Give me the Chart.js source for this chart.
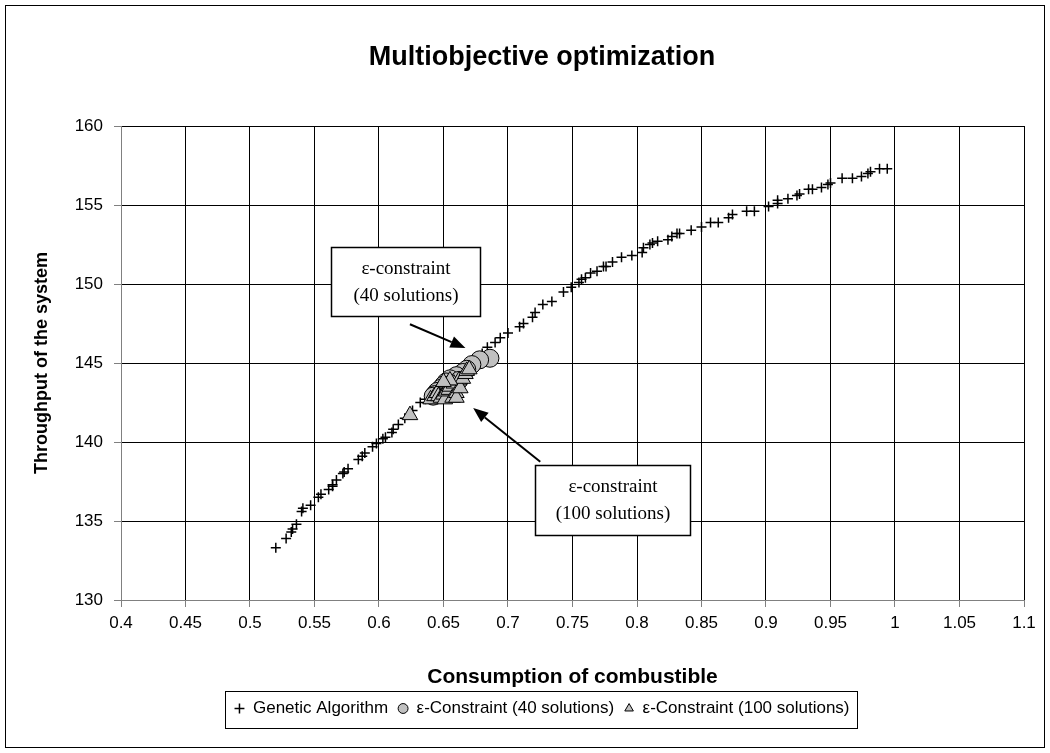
<!DOCTYPE html>
<html>
<head>
<meta charset="utf-8">
<script src="https://cdn.jsdelivr.net/npm/chart.js@4.4.0/dist/chart.umd.min.js"></script>
<style>
  html, body { margin: 0; padding: 0; background: #fff; }
  #wrap { width: 1050px; height: 753px; position: relative; }
</style>
</head>
<body>
<div id="wrap"><canvas id="chart"></canvas></div>
<script>
// Genetic Algorithm front
const gaX = [0.520, 0.528, 0.532, 0.533, 0.536, 0.540, 0.541, 0.547, 0.553, 0.555,
  0.561, 0.564, 0.564, 0.567, 0.572, 0.573, 0.576, 0.584, 0.587, 0.589,
  0.595, 0.598, 0.603, 0.605, 0.610, 0.611, 0.615, 0.620, 0.626, 0.632,
  0.636, 0.641, 0.646, 0.651, 0.656, 0.661, 0.666, 0.671, 0.676, 0.680,
  0.684, 0.690, 0.694, 0.700, 0.709, 0.712, 0.719, 0.721, 0.727, 0.734,
  0.743, 0.749, 0.755, 0.757, 0.760, 0.764, 0.769, 0.774, 0.776, 0.781,
  0.788, 0.796, 0.804, 0.805, 0.810, 0.812, 0.816, 0.824, 0.827, 0.831,
  0.833, 0.842, 0.850, 0.857, 0.863, 0.871, 0.874, 0.885, 0.891, 0.902,
  0.909, 0.909, 0.917, 0.924, 0.926, 0.933, 0.936, 0.943, 0.948, 0.950,
  0.959, 0.967, 0.974, 0.979, 0.981, 0.988, 0.994];
const gaY = [133.3, 133.9, 134.3, 134.5, 134.8, 135.6, 135.8, 136.0, 136.5, 136.7,
  137.0, 137.2, 137.3, 137.6, 138.0, 138.1, 138.3, 138.9, 139.1, 139.3,
  139.7, 139.9, 140.2, 140.3, 140.6, 140.8, 141.1, 141.5, 142.0, 142.5,
  142.7, 143.0, 143.3, 143.6, 143.9, 144.2, 144.6, 144.9, 145.3, 145.6,
  146.0, 146.3, 146.6, 146.9, 147.3, 147.5, 147.9, 148.2, 148.7, 148.9,
  149.5, 149.8, 150.1, 150.3, 150.4, 150.7, 150.8, 151.1, 151.1, 151.4,
  151.7, 151.8, 152.0, 152.3, 152.5, 152.6, 152.7, 152.8, 153.0, 153.2,
  153.2, 153.4, 153.6, 153.9, 153.9, 154.2, 154.4, 154.6, 154.6, 154.9,
  155.1, 155.3, 155.4, 155.6, 155.7, 156.0, 156.0, 156.1, 156.3, 156.4,
  156.7, 156.7, 156.8, 157.0, 157.1, 157.3, 157.3];

// ε-Constraint, 40 solutions
const c40X = [0.686, 0.678, 0.672, 0.668, 0.665, 0.660, 0.655, 0.652, 0.650, 0.648,
  0.645, 0.643, 0.642, 0.655, 0.662];
const c40Y = [145.3, 145.2, 144.9, 144.6, 144.4, 144.2, 144.0, 143.8, 143.6, 143.4,
  143.2, 143.0, 142.9, 143.5, 143.9];

// ε-Constraint, 100 solutions
const c100X = [0.624, 0.640, 0.643, 0.645, 0.646, 0.648, 0.650, 0.651, 0.652, 0.654,
  0.655, 0.657, 0.658, 0.660, 0.660, 0.662, 0.663, 0.665, 0.667, 0.668,
  0.670, 0.655, 0.650];
const c100Y = [141.7, 142.7, 142.9, 143.1, 142.9, 142.8, 143.0, 142.7, 143.2, 143.3,
  143.5, 142.8, 143.7, 143.1, 142.8, 143.9, 143.4, 144.0, 144.3, 144.5,
  144.6, 143.9, 143.8];

const xTicks = [0.4, 0.45, 0.5, 0.55, 0.6, 0.65, 0.7, 0.75, 0.8, 0.85, 0.9, 0.95, 1, 1.05, 1.1];
const yTicks = [130, 135, 140, 145, 150, 155, 160];

const seriesNames = ["Genetic Algorithm", "ε-Constraint (40 solutions)", "ε-Constraint (100 solutions)"];

// call-out boxes and arrows, in data units
const callouts = [
  { lines: ["ε-constraint", "(40 solutions)"], x0: 0.563, x1: 0.678, y0: 152.35, y1: 147.95 },
  { lines: ["ε-constraint", "(100 solutions)"], x0: 0.721, x1: 0.841, y0: 138.55, y1: 134.1 }
];
const arrows = [
  { from: [0.624, 147.45], to: [0.667, 145.95] },
  { from: [0.725, 138.75], to: [0.673, 142.15] }
];

const SANS = "'Liberation Sans', Arial, sans-serif";
const SERIF = "'Liberation Serif', 'Times New Roman', serif";

function toPoints(xs, ys) {
  return xs.map((x, i) => ({ x, y: ys[i] }));
}

const extras = {
  id: "extras",
  afterDatasetsDraw(chart) {
    const { ctx } = chart;
    const xs = chart.scales.x, ys = chart.scales.y;
    ctx.save();
    // boxes
    callouts.forEach((c) => {
      const l = Math.round(xs.getPixelForValue(c.x0)) + 0.5;
      const r = Math.round(xs.getPixelForValue(c.x1)) + 0.5;
      const t = Math.round(ys.getPixelForValue(c.y0)) + 0.5;
      const b = Math.round(ys.getPixelForValue(c.y1)) + 0.5;
      ctx.fillStyle = "#fff";
      ctx.fillRect(l, t, r - l, b - t);
      ctx.strokeStyle = "#000";
      ctx.lineWidth = 1.5;
      ctx.strokeRect(l, t, r - l, b - t);
      ctx.fillStyle = "#000";
      ctx.font = "19px " + SERIF;
      ctx.textAlign = "center";
      ctx.textBaseline = "middle";
      const cx = (l + r) / 2, cy = (t + b) / 2;
      ctx.fillText(c.lines[0], cx, cy - 13);
      ctx.fillText(c.lines[1], cx, cy + 14);
    });
    // arrows
    arrows.forEach((a) => {
      const x1 = xs.getPixelForValue(a.from[0]), y1 = ys.getPixelForValue(a.from[1]);
      const x2 = xs.getPixelForValue(a.to[0]), y2 = ys.getPixelForValue(a.to[1]);
      const ang = Math.atan2(y2 - y1, x2 - x1);
      const head = 15, half = 6;
      ctx.strokeStyle = "#000";
      ctx.lineWidth = 2;
      ctx.beginPath();
      ctx.moveTo(x1, y1);
      ctx.lineTo(x2 - head * Math.cos(ang), y2 - head * Math.sin(ang));
      ctx.stroke();
      ctx.fillStyle = "#000";
      ctx.beginPath();
      ctx.moveTo(x2, y2);
      ctx.lineTo(x2 - head * Math.cos(ang) + half * Math.sin(ang), y2 - head * Math.sin(ang) - half * Math.cos(ang));
      ctx.lineTo(x2 - head * Math.cos(ang) - half * Math.sin(ang), y2 - head * Math.sin(ang) + half * Math.cos(ang));
      ctx.closePath();
      ctx.fill();
    });
    ctx.restore();
  },
  afterDraw(chart) {
    const { ctx, legend } = chart;
    ctx.save();
    ctx.strokeStyle = "#000";
    ctx.lineWidth = 1;
    // legend frame
    const boxes = legend.legendHitBoxes;
    if (boxes && boxes.length) {
      const l = Math.min(...boxes.map((b) => b.left)) - 9;
      const r = Math.max(...boxes.map((b) => b.left + b.width)) + 8;
      const cy = boxes[0].top + boxes[0].height / 2;
      ctx.strokeRect(Math.round(l) + 0.5, Math.round(cy - 18) + 0.5, Math.round(r - l), 37);
    }
    // outer frame
    ctx.strokeRect(5.5, 5.5, 1039, 742);
    ctx.restore();
  }
};

const ctx = document.getElementById("chart").getContext("2d");
new Chart(ctx, {
  type: "scatter",
  data: {
    datasets: [
      {
        label: seriesNames[0],
        data: toPoints(gaX, gaY),
        pointStyle: "cross",
        pointRadius: 5,
        borderColor: "#000",
        backgroundColor: "#000",
        borderWidth: 1.5,
        order: 3
      },
      {
        label: seriesNames[1],
        data: toPoints(c40X, c40Y),
        pointStyle: "circle",
        pointRadius: 9,
        borderColor: "#000",
        backgroundColor: "#c0c0c0",
        borderWidth: 1,
        order: 2
      },
      {
        label: seriesNames[2],
        data: toPoints(c100X, c100Y),
        pointStyle: "triangle",
        pointRadius: 9,
        borderColor: "#000",
        backgroundColor: "#c0c0c0",
        borderWidth: 1,
        order: 1
      }
    ]
  },
  options: {
    responsive: true,
    maintainAspectRatio: false,
    animation: false,
    devicePixelRatio: 1,
    layout: { padding: { left: 34, right: 0, top: 0, bottom: 26 } },
    plugins: {
      tooltip: { enabled: false },
      title: {
        display: true,
        text: "Multiobjective optimization",
        color: "#000",
        font: { family: SANS, size: 27, weight: "bold" },
        padding: { top: 41.8, bottom: 51.8 }
      },
      legend: {
        position: "bottom",
        labels: {
          usePointStyle: true,
          boxWidth: 10,
          boxHeight: 7,
          padding: 10,
          color: "#000",
          font: { family: SANS, size: 17 },
          sort: (a, b) => a.datasetIndex - b.datasetIndex
        }
      }
    },
    scales: {
      x: {
        type: "linear",
        min: 0.4,
        max: 1.1,
        afterFit: (s) => { s.height = 90; },
        afterBuildTicks: (s) => { s.ticks = xTicks.map((v) => ({ value: v })); },
        ticks: {
          color: "#000",
          padding: 6,
          maxRotation: 0,
          autoSkip: false,
          font: { family: SANS, size: 17 },
          callback: (v) => String(Math.round(v * 100) / 100)
        },
        grid: { color: "#000", lineWidth: 1, tickLength: 7, tickColor: "#808080" },
        border: { color: "#808080", width: 1 },
        title: {
          display: true,
          text: "Consumption of combustible",
          color: "#000",
          font: { family: SANS, size: 21, weight: "bold" },
          padding: { top: 0, bottom: 0.5 }
        }
      },
      y: {
        type: "linear",
        min: 130,
        max: 160,
        afterFit: (s) => { s.width = 87; },
        afterBuildTicks: (s) => { s.ticks = yTicks.map((v) => ({ value: v })); },
        ticks: {
          color: "#000",
          padding: 11,
          font: { family: SANS, size: 17 }
        },
        grid: { color: "#000", lineWidth: 1, tickLength: 7, tickColor: "#808080" },
        border: { color: "#808080", width: 1 },
        title: {
          display: true,
          text: "Throughput of the system",
          color: "#000",
          font: { family: SANS, size: 18, weight: "bold" },
          padding: { top: -3, bottom: 0 }
        }
      },
      // empty right-hand strip so the plot ends at the same place as the reference
      yRight: {
        type: "linear",
        position: "right",
        min: 130,
        max: 160,
        afterFit: (s) => { s.width = 26; },
        grid: { display: false, drawTicks: false },
        border: { display: false },
        ticks: { display: false }
      }
    }
  },
  plugins: [extras]
});
</script>
</body>
</html>
